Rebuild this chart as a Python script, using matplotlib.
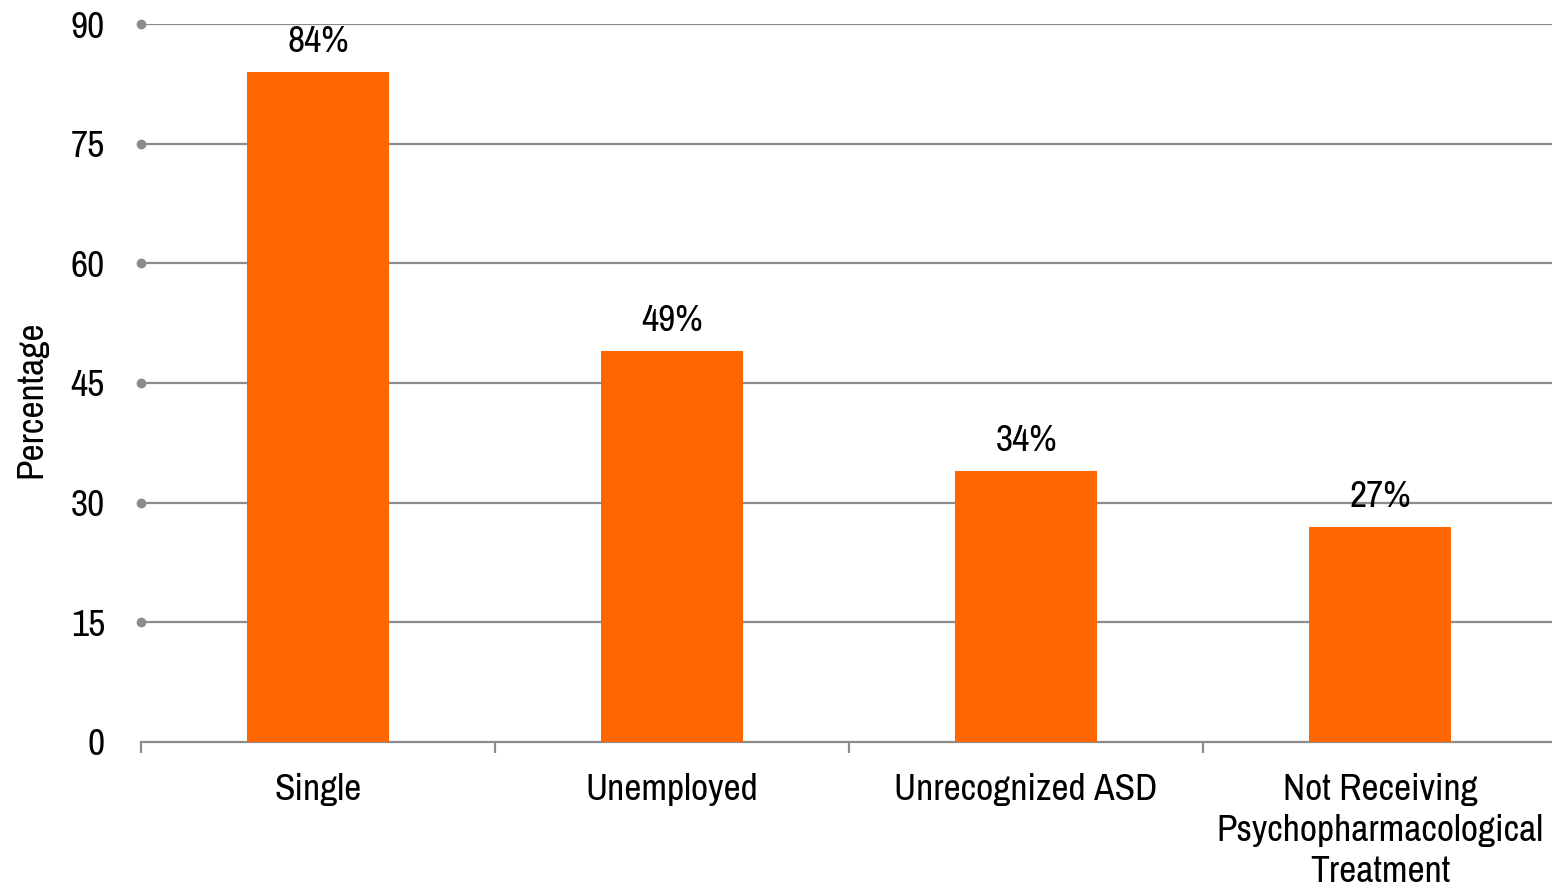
import matplotlib.pyplot as plt

categories = ["Single", "Unemployed", "Unrecognized ASD",
              "Not Receiving\nPsychopharmacological\nTreatment"]
values = [84, 49, 34, 27]
yticks = [0, 15, 30, 45, 60, 75, 90]

plt.rcParams['font.family'] = ["Archivo Narrow", "Liberation Sans", "DejaVu Sans"]

grid_col = "#8c8c8c"
bar_col = "#ff6600"
fs = 27

fig = plt.figure(figsize=(15.52, 8.89), dpi=100)
ax = fig.add_axes([0.0909, 0.1654, 0.9124, 0.8076])

x = range(len(categories))
bars = ax.bar(x, values, width=0.4, color=bar_col, zorder=3)

for b, v in zip(bars, values):
    ax.annotate(f"{v}%", (b.get_x() + b.get_width() / 2, v),
                xytext=(0, 10), textcoords="offset points",
                ha="center", va="bottom", fontsize=fs, zorder=4)

ax.set_xlim(-0.5, len(categories) - 0.5)
ax.set_ylim(0, 90)
ax.set_yticks(yticks)
ax.set_yticklabels([str(t) for t in yticks], fontsize=fs)
for t in yticks[1:]:
    ax.axhline(t, color=grid_col, lw=1.6, zorder=1)
ax.plot([-0.5] * (len(yticks) - 1), yticks[1:], "o", color=grid_col, ms=6,
        clip_on=False, zorder=2)

ax.set_xticks(x)
ax.set_xticklabels(categories, fontsize=fs, linespacing=1.3)
ax.tick_params(axis="x", length=0, pad=22)
ax.tick_params(axis="y", length=0, pad=26)
# category boundary ticks
ax.set_xticks([i - 0.5 for i in range(len(categories))], minor=True)
ax.tick_params(axis="x", which="minor", length=8, width=1.6, color=grid_col, direction="out")

for s in ["top", "right", "left"]:
    ax.spines[s].set_visible(False)
ax.spines["bottom"].set_color(grid_col)
ax.spines["bottom"].set_linewidth(1.6)

ax.set_ylabel("Percentage", fontsize=27, va="center")
ax.yaxis.set_label_coords(-0.078, 0.478)

fig.savefig("out.png", dpi=100)
